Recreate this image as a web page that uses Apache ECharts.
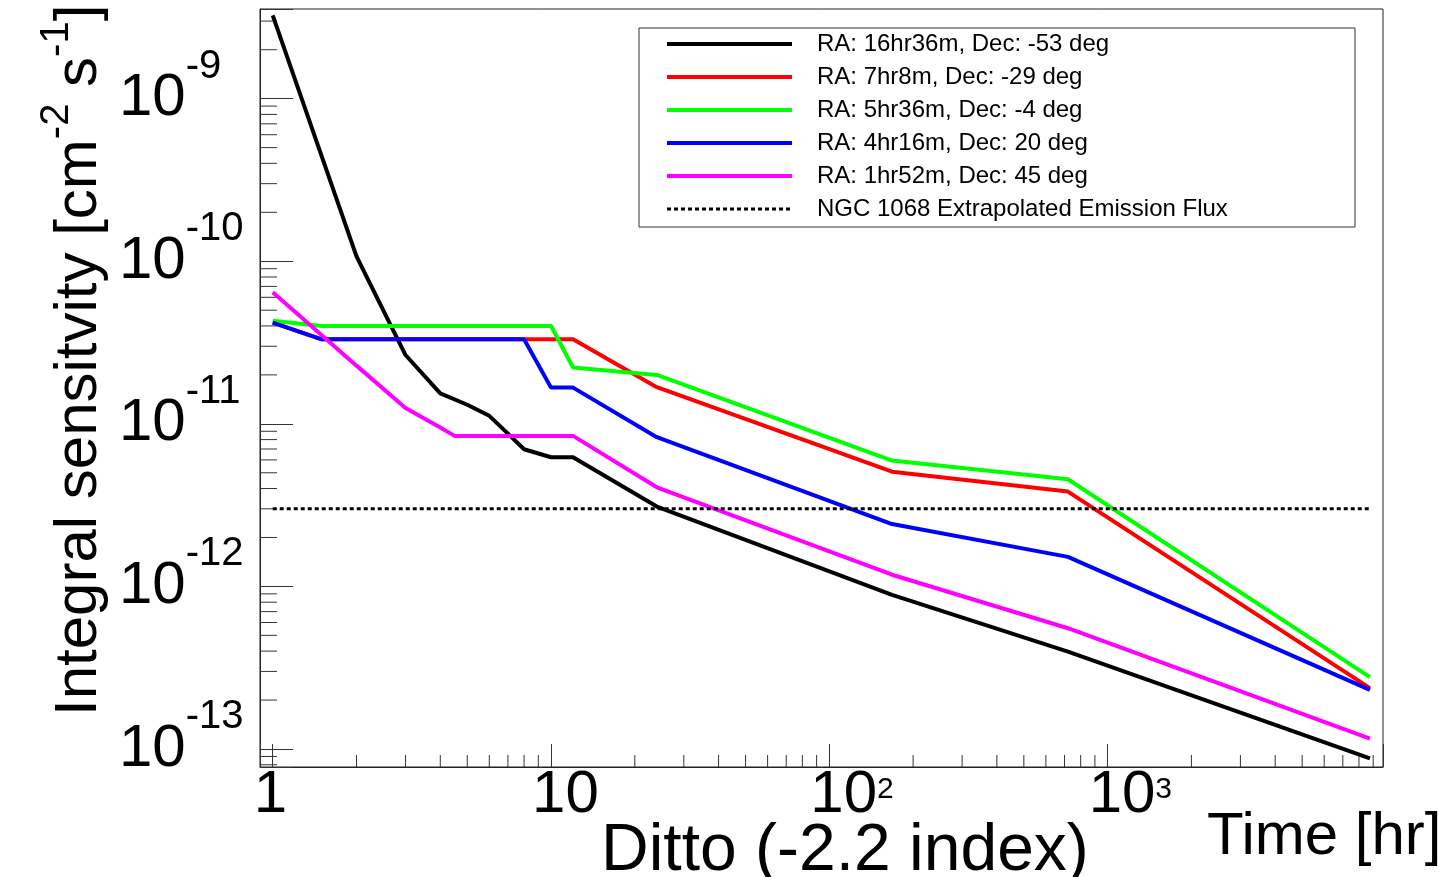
<!DOCTYPE html>
<html><head><meta charset="utf-8">
<script src="https://cdn.jsdelivr.net/npm/echarts@6/dist/echarts.min.js"></script>
<style>html,body{margin:0;padding:0;background:#fff;overflow:hidden}#c{width:1439px;height:877px}</style>
</head><body><div id="c"></div><script>
// ---- data ----
const seriesNames = [
  'RA: 16hr36m, Dec: -53 deg',
  'RA: 7hr8m, Dec: -29 deg',
  'RA: 5hr36m, Dec: -4 deg',
  'RA: 4hr16m, Dec: 20 deg',
  'RA: 1hr52m, Dec: 45 deg',
  'NGC 1068 Extrapolated Emission Flux'
];
const timeBlack = [1, 2, 3, 4, 5, 6, 7, 8, 10, 12, 24, 168, 720, 8760];
const sensBlack = [3.25e-9, 1.07e-10, 2.65e-11, 1.54e-11, 1.31e-11, 1.12e-11, 8.7e-12, 6.98e-12, 6.23e-12, 6.23e-12, 3.1e-12, 8.87e-13, 3.97e-13, 8.77e-14];
const timeRed = [1, 1.5, 12, 24, 168, 720, 8760];
const sensRed = [4.19e-11, 3.31e-11, 3.31e-11, 1.68e-11, 5.08e-12, 3.83e-12, 2.37e-13];
const timeGreen = [1, 1.5, 10, 12, 24, 168, 720, 8760];
const sensGreen = [4.31e-11, 4.0e-11, 4.0e-11, 2.22e-11, 2.0e-11, 5.94e-12, 4.56e-12, 2.77e-13];
const timeBlue = [1, 1.5, 8, 10, 12, 24, 168, 720, 8760];
const sensBlue = [4.19e-11, 3.31e-11, 3.31e-11, 1.67e-11, 1.67e-11, 8.27e-12, 2.42e-12, 1.52e-12, 2.31e-13];
const timeMagenta = [1, 2, 3, 4, 4.5, 12, 24, 168, 720, 8760];
const sensMagenta = [6.45e-11, 2.28e-11, 1.25e-11, 9.48e-12, 8.43e-12, 8.43e-12, 4.07e-12, 1.18e-12, 5.53e-13, 1.16e-13];
const timeFlux = [1, 8760];
const fluxNGC1068 = [3.0e-12, 3.0e-12];
const xMinorTicks = [2,3,4,5,6,7,8,9,20,30,40,50,60,70,80,90,200,300,400,500,600,700,800,900,2000,3000,4000,5000,6000,7000,8000,9000];
const yMinorTicks = [8e-14,9e-14,2e-13,3e-13,4e-13,5e-13,6e-13,7e-13,8e-13,9e-13,2e-12,3e-12,4e-12,5e-12,6e-12,7e-12,8e-12,9e-12,2e-11,3e-11,4e-11,5e-11,6e-11,7e-11,8e-11,9e-11,2e-10,3e-10,4e-10,5e-10,6e-10,7e-10,8e-10,9e-10,2e-9,3e-9];
const xMin = 0.9, xMax = 9760, yMin = 7.75e-14, yMax = 3.56e-9;
const colors = ['#000000', '#ff0000', '#00ff00', '#0000ff', '#ff00ff', '#000000'];

const FONT = 'Liberation Sans, Arial, Helvetica, sans-serif';
const pair = (xs, ys) => xs.map((x, i) => [x, ys[i]]);
const lineData = [
  pair(timeBlack, sensBlack), pair(timeRed, sensRed), pair(timeGreen, sensGreen),
  pair(timeBlue, sensBlue), pair(timeMagenta, sensMagenta), pair(timeFlux, fluxNGC1068)
];

function decade(v) {
  const l = Math.log10(v); const k = Math.round(l);
  return Math.abs(l - k) < 1e-6 ? k : null;
}

const lineStyles = colors.map((c, i) => i === 5 ? {color: c, width: 3, type: [4, 3]} : {color: c, width: 4});

const chart = echarts.init(document.getElementById('c'), null, {renderer: 'canvas'});
const series = lineData.map((d, i) => ({
  name: seriesNames[i], type: 'line', data: d, symbol: 'none', silent: true,
  lineStyle: lineStyles[i], itemStyle: {color: colors[i]}, z: 3 + i
}));
series.push({
  type: 'custom', silent: true, z: 2,
  data: xMinorTicks.map(v => [v, yMin]),
  renderItem: (p, api) => {
    const c = api.coord([api.value(0), yMin]);
    return {type: 'line', shape: {x1: c[0], y1: c[1], x2: c[0], y2: c[1] - 12}, style: {stroke: '#333', lineWidth: 1}};
  }
});
series.push({
  type: 'custom', silent: true, z: 2,
  data: yMinorTicks.map(v => [xMin, v]),
  renderItem: (p, api) => {
    const c = api.coord([xMin, api.value(1)]);
    return {type: 'line', shape: {x1: c[0], y1: c[1], x2: c[0] + 17, y2: c[1]}, style: {stroke: '#333', lineWidth: 1}};
  }
});

chart.setOption({
  animation: false,
  textStyle: {fontFamily: FONT, color: '#000'},
  grid: {left: 260, top: 9, right: 56, bottom: 110, show: true, borderColor: '#222', borderWidth: 1, containLabel: false},
  xAxis: {
    type: 'log', logBase: 10, min: xMin, max: xMax,
    axisLine: {lineStyle: {color: '#222', width: 1}},
    axisTick: {inside: true, length: 23, lineStyle: {color: '#333'}},
    splitLine: {show: false},
    axisLabel: {
      margin: -2, align: 'left', verticalAlign: 'top', padding: [0, 0, 0, -19],
      formatter: v => { const k = decade(v); if (k === null) return ''; if (k === 0) return '{b|1}'; if (k === 1) return '{b|10}'; return '{b|10}{e|' + k + '}'; },
      rich: {
        b: {fontSize: 60, lineHeight: 60, fontFamily: FONT, color: '#000'},
        e: {fontSize: 30, lineHeight: 30, padding: [0, 0, 10, 0], fontFamily: FONT, color: '#000'}
      }
    }
  },
  yAxis: {
    type: 'log', logBase: 10, min: yMin, max: yMax,
    axisLine: {lineStyle: {color: '#222', width: 1}},
    axisTick: {inside: true, length: 33, lineStyle: {color: '#333'}},
    splitLine: {show: false},
    axisLabel: {
      margin: 141, align: 'left', verticalAlign: 'middle',
      formatter: v => { const k = decade(v); if (k === null) return ''; return '{b|10}{e|' + k + '}'; },
      rich: {
        b: {fontSize: 60, lineHeight: 60, fontFamily: FONT, color: '#000'},
        e: {fontSize: 40, lineHeight: 40, padding: [0, 0, 64, 0], fontFamily: FONT, color: '#000'}
      }
    }
  },
  legend: {
    orient: 'vertical', left: 665, top: 32, padding: 0,
    itemWidth: 125, itemHeight: 24, itemGap: 9, selectedMode: false,
    data: seriesNames.map((n, i) => ({
      name: n,
      itemStyle: {opacity: 0},
      lineStyle: {color: colors[i], width: lineStyles[i].width, type: i === 5 ? [4, 3] : 'solid'}
    })),
    textStyle: {fontSize: 24, lineHeight: 24, fontFamily: FONT, color: '#000', padding: [0, 0, 0, 20]}
  },
  graphic: [
    {type: 'rect', shape: {x: 639, y: 28, width: 716, height: 199}, style: {fill: 'none', stroke: '#333', lineWidth: 1}, silent: true, z: 1},
    {type: 'text', x: 79, y: 716, rotation: Math.PI / 2, silent: true,
      style: {text: 'Integral sensitvity [cm{s|-2} s{s|-1}]', fontSize: 60, lineHeight: 60, fontFamily: FONT, fill: '#000',
        align: 'left', verticalAlign: 'middle',
        rich: {s: {fontSize: 40, lineHeight: 40, padding: [0, 0, 44, 0], fontFamily: FONT, fill: '#000'}}}},
    {type: 'text', x: 1207, y: 837, silent: true,
      style: {text: 'Time [hr]', fontSize: 60, fontFamily: FONT, fill: '#000', align: 'left', verticalAlign: 'middle'}},
    {type: 'text', x: 601, y: 852, silent: true,
      style: {text: 'Ditto (-2.2 index)', fontSize: 66, fontFamily: FONT, fill: '#000', align: 'left', verticalAlign: 'middle'}}
  ],
  series: series
});
</script></body></html>
